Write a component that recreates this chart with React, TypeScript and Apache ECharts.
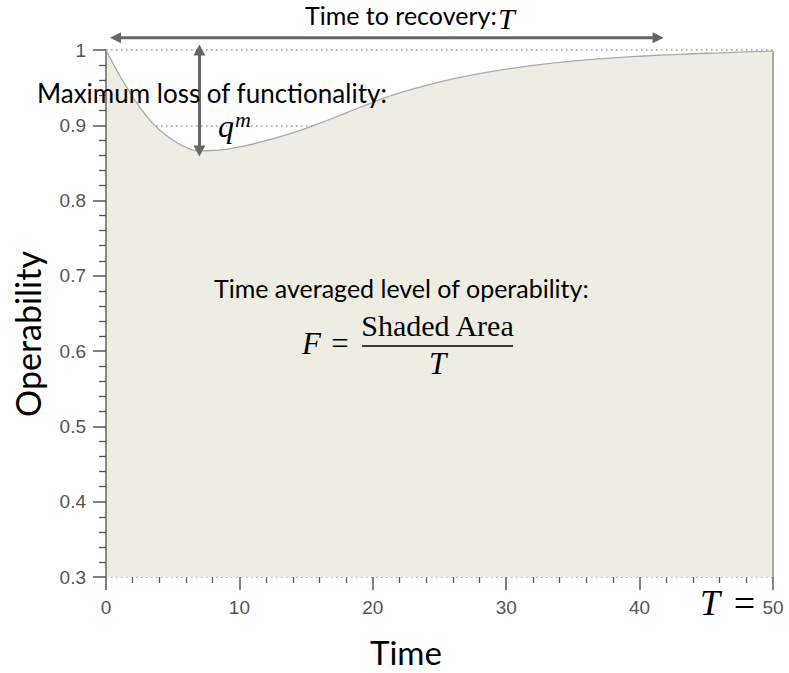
import React, { useEffect, useRef } from "react";
import * as echarts from "echarts";

// Operability curve after a disruption: drop to the worst point, then recovery.
const time = [0, 1, 2, 3, 4, 5, 6, 7, 8, 9, 10, 12, 14, 16, 18, 20, 22, 24, 26, 28, 30, 32, 34, 36, 38, 40, 42, 44, 46, 48, 50];
const operability = [
  1.0, 0.967, 0.938, 0.913, 0.894, 0.8805, 0.8705, 0.866, 0.8665, 0.868, 0.8712,
  0.8795, 0.89, 0.9025, 0.9165, 0.9305, 0.943, 0.953, 0.9615, 0.9685, 0.9745,
  0.9795, 0.9835, 0.9868, 0.9895, 0.9917, 0.9935, 0.995, 0.9963, 0.9975, 0.9985,
];

// Span of the "time to recovery" arrow drawn above the plot
const recoverySpan = [0.3, 41.8];
const recoveryArrowLevel = 1.0163;

const xTicks = { min: 0, max: 50, interval: 10 };
const yTicks = { min: 0.3, max: 1, interval: 0.1 };

const TEXT_FONT = "Lato";
const MATH_FONT = '"Liberation Serif"';
const ARROW_COLOR = "#666";

const text = (x: number, y: number, s: string, font: string, align = "left", extra: any = {}) => ({
  type: "text",
  z: 20,
  x,
  y,
  ...extra,
  style: { text: s, font, fill: "#000", align, verticalAlign: "middle" },
});

export default function App() {
  const ref = useRef<HTMLDivElement>(null);

  useEffect(() => {
    if (!ref.current) return;
    const chart = echarts.init(ref.current, undefined, { renderer: "svg" });

    let minIdx = 0;
    operability.forEach((v, i) => {
      if (v < operability[minIdx]) minIdx = i;
    });
    const tMin = time[minIdx];
    const qMin = operability[minIdx];
    const last = operability[operability.length - 1];

    const arrowStyle = { color: ARROW_COLOR, width: 3, type: "solid" as const };

    chart.setOption({
      animation: false,
      grid: { left: 106, right: 16, top: 50, bottom: 96, outerBoundsMode: "none" },
      xAxis: {
        type: "value",
        min: xTicks.min,
        max: xTicks.max,
        interval: xTicks.interval,
        axisLine: { show: false },
        axisTick: { show: true, length: 13, lineStyle: { color: "#555", width: 1.5 } },
        minorTick: { show: true, splitNumber: 5, length: 6, lineStyle: { color: "#555", width: 1.3 } },
        splitLine: { show: false },
        axisLabel: { color: "#555", fontSize: 19, fontFamily: '"Liberation Sans"', margin: 21 },
      },
      yAxis: {
        type: "value",
        min: yTicks.min,
        max: yTicks.max,
        interval: yTicks.interval,
        z: 3,
        axisLine: { show: true, lineStyle: { color: "#888", width: 2 } },
        axisTick: { show: true, length: 13, lineStyle: { color: "#555", width: 1.5 } },
        minorTick: { show: true, splitNumber: 5, length: 7, lineStyle: { color: "#555", width: 1.3 } },
        splitLine: { show: true, lineStyle: { color: "#999", width: 1.5, type: [1.5, 3.5] } },
        axisLabel: {
          color: "#555",
          fontSize: 19,
          fontFamily: '"Liberation Sans"',
          margin: 20,
          formatter: (v: number) => String(+v.toFixed(1)),
        },
      },
      series: [
        {
          type: "line",
          data: time.map((t, i) => [t, operability[i]]),
          smooth: 0.5,
          symbol: "none",
          clip: false,
          lineStyle: { color: "#aaa", width: 1.3 },
          areaStyle: { color: "#EEEDE4", opacity: 1, origin: "start" },
          markLine: {
            silent: true,
            animation: false,
            label: { show: false },
            emphasis: { disabled: true },
            symbol: ["triangle", "triangle"],
            symbolSize: [12, 11],
            data: [
              [
                { coord: [tMin, 1], lineStyle: arrowStyle },
                { coord: [tMin, qMin] },
              ],
              [
                { coord: [50, yTicks.min], symbol: "none", lineStyle: { color: "#aaa", width: 2, type: "solid" } },
                { coord: [50, last], symbol: "none" },
              ],
            ],
          },
        },
      ],
    });

    // The recovery-time arrow sits above the plot area, so place it from data coordinates.
    const [ax1, ay] = chart.convertToPixel({ gridIndex: 0 }, [recoverySpan[0], recoveryArrowLevel]) as number[];
    const [ax2] = chart.convertToPixel({ gridIndex: 0 }, [recoverySpan[1], recoveryArrowLevel]) as number[];
    const head = 11;
    const half = 5.5;

    chart.setOption({
      graphic: [
        {
          type: "line",
          z: 20,
          shape: { x1: ax1 + head - 2, y1: ay, x2: ax2 - head + 2, y2: ay },
          style: { stroke: ARROW_COLOR, lineWidth: 3 },
        },
        {
          type: "polygon",
          z: 20,
          shape: { points: [[ax1, ay], [ax1 + head, ay - half], [ax1 + head, ay + half]] },
          style: { fill: ARROW_COLOR },
        },
        {
          type: "polygon",
          z: 20,
          shape: { points: [[ax2, ay], [ax2 - head, ay - half], [ax2 - head, ay + half]] },
          style: { fill: ARROW_COLOR },
        },
        text(305, 15, "Time to recovery:", `25px ${TEXT_FONT}`),
        text(498, 18, "T", `italic 30px ${MATH_FONT}`),
        text(37, 93, "Maximum loss of functionality:", `26px ${TEXT_FONT}`),
        text(218, 125.5, "q", `italic 32px ${MATH_FONT}`),
        text(235, 119.5, "m", `italic 22px ${MATH_FONT}`),
        text(214, 288, "Time averaged level of operability:", `25px ${TEXT_FONT}`),
        text(302, 343, "F", `italic 31px ${MATH_FONT}`),
        text(340, 343, "=", `31px ${MATH_FONT}`, "center"),
        text(437.5, 325, "Shaded Area", `30px ${MATH_FONT}`, "center"),
        {
          type: "line",
          z: 20,
          shape: { x1: 362, y1: 346, x2: 513, y2: 346 },
          style: { stroke: "#000", lineWidth: 1.3 },
        },
        text(437.5, 363, "T", `italic 31px ${MATH_FONT}`, "center"),
        text(700, 603, "T", `italic 36px ${MATH_FONT}`),
        text(744.5, 603, "=", `38px ${MATH_FONT}`, "center"),
        text(27, 334, "Operability", `34px ${TEXT_FONT}`, "center", { rotation: Math.PI / 2 }),
        text(406, 652, "Time", `33px ${TEXT_FONT}`, "center"),
      ],
    });

    return () => chart.dispose();
  }, []);

  return (
    <div
      ref={ref}
      style={{ position: "fixed", left: 0, top: 0, width: 789, height: 673, background: "#fff" }}
    />
  );
}
